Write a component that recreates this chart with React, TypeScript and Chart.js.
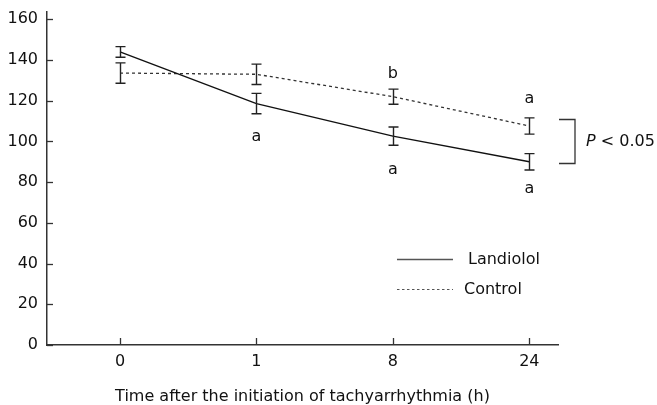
import React, { useEffect, useRef } from 'react';
import { Chart, registerables } from 'chart.js';

Chart.register(...registerables);

const timeLabels = ['0', '1', '8', '24'];
const landiololMean = [144, 118.6, 102.6, 90];
const landiololErr = [2.6, 5, 4.5, 4];
const controlMean = [133.6, 133, 122, 107.6];
const controlErr = [5, 5, 3.7, 4];
const yTickValues = [0, 20, 40, 60, 80, 100, 120, 140, 160];
const letterX = [1, 2, 2, 3, 3];
const letterY = [102.2, 133, 85.9, 121.1, 76.9];
const letterText = ['a', 'b', 'a', 'a', 'a'];
const bracketValues = [111, 89.3];
const pValueText = '< 0.05';
const legendNames = ['Landiolol', 'Control'];

const FONT = "'DejaVu Sans', sans-serif";
const TEXT = '#111';
const AXIS = '#333';

const overlay = {
  id: 'overlay',
  afterDatasetsDraw(chart: any) {
    const ctx = chart.ctx;
    const xs = chart.scales.x;
    const ys = chart.scales.y;
    const area = chart.chartArea;
    ctx.save();
    // inward tick marks
    ctx.strokeStyle = AXIS;
    ctx.lineWidth = 1.3;
    yTickValues.forEach((v) => {
      const py = Math.round(ys.getPixelForValue(v)) + 0.5;
      ctx.beginPath();
      ctx.moveTo(area.left, py);
      ctx.lineTo(area.left + 6, py);
      ctx.stroke();
    });
    timeLabels.forEach((_, i) => {
      const px = Math.round(xs.getPixelForValue(i)) + 0.5;
      ctx.beginPath();
      ctx.moveTo(px, area.bottom);
      ctx.lineTo(px, area.bottom - 7);
      ctx.stroke();
    });
    // error bars
    const drawErr = (means: number[], errs: number[]) => {
      means.forEach((m, i) => {
        const px = Math.round(xs.getPixelForValue(i)) + 0.5;
        const top = ys.getPixelForValue(m + errs[i]);
        const bot = ys.getPixelForValue(m - errs[i]);
        ctx.beginPath();
        ctx.moveTo(px, top);
        ctx.lineTo(px, bot);
        ctx.moveTo(px - 5, top);
        ctx.lineTo(px + 5, top);
        ctx.moveTo(px - 5, bot);
        ctx.lineTo(px + 5, bot);
        ctx.stroke();
      });
    };
    ctx.strokeStyle = '#222';
    ctx.lineWidth = 1.4;
    drawErr(landiololMean, landiololErr);
    drawErr(controlMean, controlErr);
    // significance letters
    ctx.fillStyle = TEXT;
    ctx.font = `16px ${FONT}`;
    ctx.textAlign = 'center';
    ctx.textBaseline = 'middle';
    letterText.forEach((t, i) => {
      ctx.fillText(t, xs.getPixelForValue(letterX[i]), ys.getPixelForValue(letterY[i]));
    });
    // bracket
    const bTop = Math.round(ys.getPixelForValue(bracketValues[0])) + 0.5;
    const bBot = Math.round(ys.getPixelForValue(bracketValues[1])) + 0.5;
    const bx0 = area.right + 1;
    const bx1 = area.right + 17;
    ctx.strokeStyle = AXIS;
    ctx.lineWidth = 1.3;
    ctx.beginPath();
    ctx.moveTo(bx0, bTop);
    ctx.lineTo(bx1, bTop);
    ctx.lineTo(bx1, bBot);
    ctx.lineTo(bx0, bBot);
    ctx.stroke();
    const pY = (bTop + bBot) / 2;
    ctx.textAlign = 'left';
    ctx.font = `italic 16px ${FONT}`;
    const px0 = bx1 + 11;
    ctx.fillText('P', px0, pY);
    const pw = ctx.measureText('P ').width;
    ctx.font = `16px ${FONT}`;
    ctx.fillText(pValueText, px0 + pw, pY);
    // legend
    const legY0 = ys.getPixelForValue(42);
    const legY1 = ys.getPixelForValue(27.3);
    const lx0 = xs.getPixelForValue(2.03);
    const lx1 = lx0 + 56;
    ctx.strokeStyle = '#555';
    ctx.lineWidth = 1.5;
    ctx.beginPath();
    ctx.moveTo(lx0, legY0);
    ctx.lineTo(lx1, legY0);
    ctx.stroke();
    ctx.lineWidth = 1.1;
    ctx.setLineDash([2.5, 2.5]);
    ctx.beginPath();
    ctx.moveTo(lx0, legY1);
    ctx.lineTo(lx1, legY1);
    ctx.stroke();
    ctx.setLineDash([]);
    ctx.fillStyle = TEXT;
    ctx.fillText(legendNames[0], lx1 + 15, legY0);
    ctx.fillText(legendNames[1], lx1 + 11, legY1);
    ctx.restore();
  },
};

export default function App() {
  const ref = useRef<HTMLCanvasElement>(null);
  useEffect(() => {
    document.body.style.margin = '0';
    const canvas = ref.current;
    if (!canvas) return;
    const chart = new Chart(canvas, {
      type: 'line',
      data: {
        datasets: [
          {
            label: legendNames[0],
            data: landiololMean.map((v, i) => ({ x: i, y: v })),
            borderColor: '#111',
            borderWidth: 1.4,
            pointRadius: 0,
            tension: 0,
          },
          {
            label: legendNames[1],
            data: controlMean.map((v, i) => ({ x: i, y: v })),
            borderColor: '#333',
            borderWidth: 1.3,
            borderDash: [3, 3],
            pointRadius: 0,
            tension: 0,
          },
        ],
      },
      options: {
        responsive: false,
        animation: false,
        layout: { padding: { top: 12, right: 99, left: 0, bottom: 0 } },
        plugins: { legend: { display: false }, tooltip: { enabled: false } },
        scales: {
          x: {
            type: 'linear',
            min: -0.535,
            max: 3.21,
            grid: { display: false, drawTicks: false, tickLength: 0 },
            border: { display: true, color: AXIS, width: 1.5 },
            afterBuildTicks: (s: any) => {
              s.ticks = timeLabels.map((_, i) => ({ value: i }));
            },
            afterFit: (s: any) => {
              s.height = 60;
              s.paddingLeft = 0;
              s.paddingRight = 0;
            },
            ticks: {
              color: TEXT,
              font: { family: FONT, size: 16 },
              padding: 7,
              maxRotation: 0,
              callback: (v: any) => timeLabels[v] ?? '',
            },
            title: {
              display: true,
              text: 'Time after the initiation of tachyarrhythmia (h)',
              color: TEXT,
              font: { family: FONT, size: 16, lineHeight: 1 },
              padding: 0,
            },
          },
          y: {
            min: 0,
            max: 163.6,
            grid: { display: false, drawTicks: false, tickLength: 0 },
            border: { display: true, color: AXIS, width: 1.5 },
            afterBuildTicks: (s: any) => {
              s.ticks = yTickValues.map((v) => ({ value: v }));
            },
            afterFit: (s: any) => {
              s.width = 47;
              s.paddingTop = 0;
              s.paddingBottom = 0;
            },
            ticks: {
              color: TEXT,
              font: { family: FONT, size: 16 },
              padding: 9,
            },
          },
        },
      },
      plugins: [overlay],
    });
    return () => chart.destroy();
  }, []);
  return (
    <div style={{ width: 657, height: 405 }}>
      <canvas ref={ref} width={657} height={405} />
    </div>
  );
}
